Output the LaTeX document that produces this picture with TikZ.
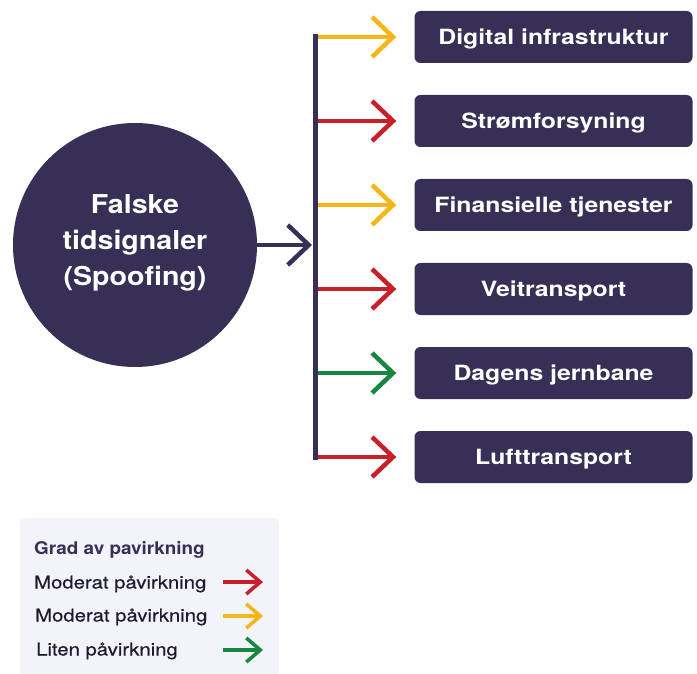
\documentclass[tikz,border=0pt]{standalone}
\usepackage{fontspec}
\setmainfont{TeX Gyre Heros}
\newfontfamily\boxfont[FakeStretch=1.18]{TeX Gyre Heros}
\newfontfamily\srcfont[FakeStretch=1.1]{TeX Gyre Heros}
\newfontfamily\legtitlefont[FakeStretch=1.08]{TeX Gyre Heros}
\newfontfamily\legitemfont[FakeStretch=1.16,FakeBold=0.4]{TeX Gyre Heros}
\usetikzlibrary{arrows.meta}
\definecolor{navy}{HTML}{372F55}
\definecolor{impred}{HTML}{C8202A}
\definecolor{impyel}{HTML}{F6B519}
\definecolor{impgrn}{HTML}{17873F}
\definecolor{legbg}{HTML}{F3F3FA}
\definecolor{legtext}{HTML}{1E1A33}
\tikzset{
  sectorbox/.style={rectangle, rounded corners=6pt, fill=navy, text=white,
    minimum width=278pt, minimum height=52pt, inner sep=0pt,
    text height=15.5pt, text depth=0pt,
    font=\boxfont\fontsize{21}{24}\selectfont\bfseries},
  source/.style={circle, fill=navy, text=white, minimum size=244pt, inner sep=0pt,
    align=center, font=\srcfont\fontsize{26}{36}\selectfont\bfseries},
  impact/.style={line width=4.5pt, -{Straight Barb[length=21pt,width=40pt]}, shorten >=18pt},
  legarrow/.style={line width=3.5pt, -{Straight Barb[length=14pt,width=24pt]}},
  legtitle/.style={anchor=base west, inner sep=0pt, text=navy, font=\legtitlefont\fontsize{17.5}{20}\selectfont\bfseries},
  legitem/.style={anchor=base west, inner sep=0pt, text=legtext, font=\legitemfont\fontsize{17.5}{20}\selectfont},
}
\begin{document}
\begin{tikzpicture}[x=1pt,y=-1pt]
\useasboundingbox (0,0) rectangle (697,674);
% source
\node[source] (src) at (135,245) {\raisebox{-3.5pt}[0pt][0pt]{\begin{tabular}{@{}c@{}}Falske\\tidsignaler\\(Spoofing)\end{tabular}}};
% hub and bar
\coordinate (hub) at (315,245);
\coordinate (bartop) at (315,34.5);
\coordinate (barbot) at (315,459.5);
% boxes
\node[sectorbox] (b1) at (553.5,37) {Digital infrastruktur};
\node[sectorbox] (b2) at (553.5,121) {Strømforsyning};
\node[sectorbox] (b3) at (553.5,205) {Finansielle tjenester};
\node[sectorbox] (b4) at (553.5,289) {Veitransport};
\node[sectorbox] (b5) at (553.5,373) {Dagens jernbane};
\node[sectorbox] (b6) at (553.5,457) {Lufttransport};
% junctions on bar
\foreach \i/\y in {1/37,2/121,3/205,4/289,5/373,6/457}{
  \coordinate (j\i) at (315,\y);
}
\draw[impact, impyel] (j1) -- (b1.west);
\draw[impact, impred] (j2) -- (b2.west);
\draw[impact, impyel] (j3) -- (b3.west);
\draw[impact, impred] (j4) -- (b4.west);
\draw[impact, impgrn] (j5) -- (b5.west);
\draw[impact, impred] (j6) -- (b6.west);
\draw[navy, line width=5pt] (bartop) -- (barbot);
\draw[navy, line width=4.5pt, -{Straight Barb[length=21pt,width=40pt]}, shorten >=3pt] (src.east) -- (hub);
% legend
\fill[legbg, rounded corners=5pt] (20,518) rectangle (279,700);
\node[legtitle] (lt) at (34,554.5) {Grad av pavirkning};
\node[legitem] (l1) at (34,588.5) {Moderat påvirkning};
\node[legitem] (l2) at (35,621.5) {Moderat påvirkning};
\node[legitem] (l3) at (36,655.5) {Liten påvirkning};
\coordinate (a1s) at (223,582); \coordinate (a1e) at (263,582);
\coordinate (a2s) at (223,616); \coordinate (a2e) at (263,616);
\coordinate (a3s) at (223,650); \coordinate (a3e) at (263,650);
\draw[legarrow, impred] (a1s) -- (a1e);
\draw[legarrow, impyel] (a2s) -- (a2e);
\draw[legarrow, impgrn] (a3s) -- (a3e);
\end{tikzpicture}
\end{document}
